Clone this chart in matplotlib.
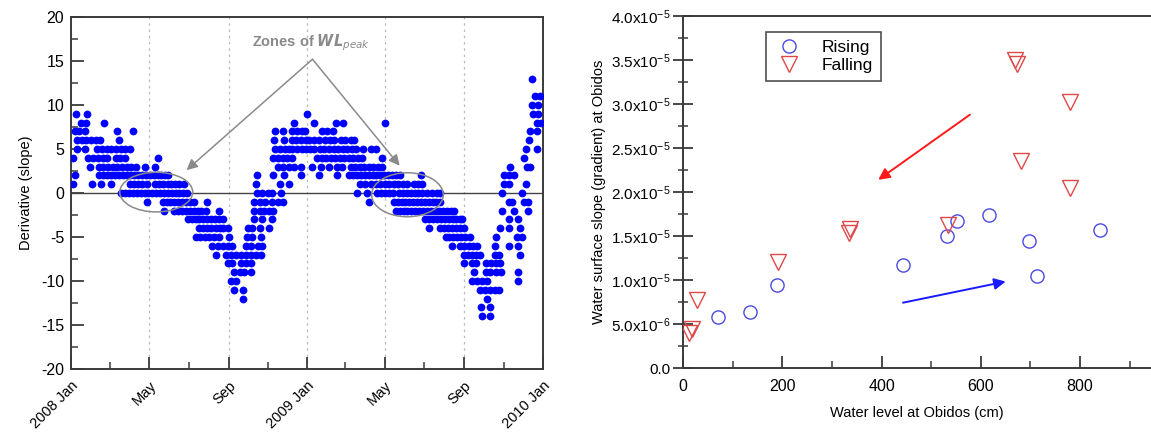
import numpy as np
import matplotlib
matplotlib.use("Agg")
import matplotlib.pyplot as plt
import matplotlib.dates as mdates
from matplotlib.patches import Ellipse
from matplotlib.ticker import MultipleLocator, FixedLocator, FuncFormatter

plt.rcParams['font.family'] = ['Liberation Sans', 'DejaVu Sans']
plt.rcParams['axes.unicode_minus'] = False

# ---- left panel: derivative of water level, days counted from 2008-01-01 ----
slope_levels = [13, 11, 10, 9, 8, 7, 6, 5, 4, 3, 2, 1, 0, -1, -2, -3, -4, -5,
                -6, -7, -8, -9, -10, -11, -12, -13, -14]
slope_days = [
    [714],
    [719, 727],
    [714, 724],
    [8, 25, 365, 716, 724],
    [15, 24, 51, 346, 376, 410, 422, 486, 722, 728],
    [6, 13, 21, 71, 96, 316, 329, 342, 350, 357, 363, 389, 397, 406, 711, 722],
    [10, 17, 24, 31, 39, 45, 74, 315, 330, 342, 349, 356, 364, 369, 376, 384,
     393, 401, 407, 418, 425, 433, 438, 710],
    [10, 22, 41, 48, 55, 62, 70, 78, 84, 91, 316, 324, 331, 338, 343, 350, 357,
     364, 370, 377, 385, 392, 400, 407, 414, 421, 428, 435, 441, 453, 464, 472,
     704, 722],
    [3, 27, 34, 42, 50, 56, 69, 76, 84, 134, 313, 321, 328, 335, 342, 381, 388,
     395, 402, 409, 416, 423, 430, 437, 444, 450, 482, 701],
    [29, 43, 50, 57, 65, 72, 79, 86, 93, 101, 114, 130, 320, 328, 338, 346, 356,
     374, 387, 400, 412, 420, 433, 440, 447, 454, 461, 468, 475, 482, 680, 706,
     711],
    [6, 44, 50, 56, 62, 68, 74, 80, 86, 92, 98, 104, 110, 116, 122, 128, 134,
     140, 146, 151, 288, 313, 330, 356, 384, 412, 431, 437, 443, 449, 455, 461,
     467, 473, 479, 485, 491, 497, 503, 509, 542, 670, 679, 686],
    [3, 33, 47, 62, 91, 97, 103, 110, 117, 130, 136, 143, 150, 155, 161, 168,
     175, 287, 323, 338, 448, 456, 464, 472, 479, 486, 493, 500, 507, 514, 521,
     531, 538, 544, 670, 679, 704],
    [78, 84, 90, 96, 102, 108, 114, 120, 126, 132, 138, 144, 150, 156, 162, 168,
     174, 180, 288, 296, 305, 311, 325, 443, 459, 474, 480, 486, 492, 498, 508,
     514, 520, 526, 532, 538, 544, 551, 559, 567, 572, 668, 698],
    [117, 142, 148, 154, 160, 166, 172, 178, 184, 191, 210, 284, 293, 301, 311,
     320, 328, 461, 500, 506, 512, 518, 524, 530, 536, 542, 548, 554, 560, 566,
     571, 678, 683, 701, 708],
    [144, 160, 166, 172, 178, 184, 190, 196, 202, 209, 229, 284, 292, 299, 307,
     313, 503, 509, 515, 521, 527, 533, 539, 545, 551, 557, 564, 570, 576, 582,
     588, 593, 668, 686, 708],
    [181, 187, 193, 199, 205, 211, 217, 223, 229, 235, 284, 296, 311, 549, 555,
     561, 567, 573, 579, 585, 591, 597, 603, 606, 678, 693],
    [199, 205, 211, 217, 224, 230, 236, 243, 274, 281, 292, 307, 554, 572, 578,
     584, 590, 596, 602, 608, 665, 679, 696],
    [193, 200, 207, 214, 222, 229, 244, 273, 280, 294, 580, 586, 592, 598, 604,
     610, 618, 658, 691, 698],
    [219, 227, 235, 243, 249, 271, 279, 289, 296, 590, 603, 609, 616, 622, 629,
     657, 679, 692],
    [225, 240, 248, 256, 263, 271, 279, 287, 294, 608, 615, 621, 628, 634, 656,
     663, 696],
    [243, 250, 263, 271, 279, 608, 621, 628, 642, 650, 658, 665],
    [253, 261, 268, 279, 624, 642, 649, 658, 666, 693],
    [248, 256, 621, 629, 637, 644, 693],
    [253, 266, 634, 641, 649, 657, 663],
    [267, 644],
    [635, 649],
    [636, 649],
]

month_ticks = ['2008-01-01', '2008-05-01', '2008-09-01', '2009-01-01',
               '2009-05-01', '2009-09-01', '2010-01-01']
month_labels = ['2008 Jan', 'May', 'Sep', '2009 Jan', 'May', 'Sep', '2010 Jan']
minor_months = ['2008-03-01', '2008-07-01', '2008-11-01', '2009-03-01',
                '2009-07-01', '2009-11-01']

# ---- right panel: slope vs water level ----
rising_level = [69, 134, 188, 443, 532, 551, 616, 697, 714, 841]
rising_slope = [5.8e-6, 6.4e-6, 9.5e-6, 1.17e-5, 1.50e-5, 1.67e-5, 1.74e-5,
                1.45e-5, 1.05e-5, 1.57e-5]
falling_level = [11, 17, 27, 191, 334, 336, 534, 669, 672, 780, 680, 780]
falling_slope = [4.0e-6, 4.5e-6, 7.7e-6, 1.21e-5, 1.54e-5, 1.58e-5, 1.63e-5,
                 3.50e-5, 3.46e-5, 3.02e-5, 2.35e-5, 2.05e-5]

base = np.datetime64('2008-01-01')
to_date = lambda d: mdates.date2num(base + np.timedelta64(int(d), 'D'))

fig = plt.figure(figsize=(11.51, 4.34), dpi=100)
spine_col = '#3a3a3a'

# ---------------- left panel ----------------
ax1 = fig.add_axes([71 / 1151, 1 - 369 / 434, 472 / 1151, 352 / 434])
xs, ys = [], []
for lev, days in zip(slope_levels, slope_days):
    for d in days:
        xs.append(to_date(d))
        ys.append(lev)
ax1.plot(xs, ys, 'o', color='#0000ff', markersize=5.6, markeredgewidth=0,
         zorder=3)

t_major = [mdates.date2num(np.datetime64(t)) for t in month_ticks]
t_minor = [mdates.date2num(np.datetime64(t)) for t in minor_months]
ax1.set_xlim(t_major[0], t_major[-1])
ax1.set_ylim(-20, 20)
for t in t_major[1:-1]:
    ax1.axvline(t, color='#bbbbbb', lw=0.9, ls=(0, (2, 3)), zorder=1)
ax1.axhline(0, color='#444444', lw=1.0, zorder=2)

ax1.xaxis.set_major_locator(FixedLocator(t_major))
ax1.xaxis.set_minor_locator(FixedLocator(t_minor))
ax1.set_xticklabels(month_labels, rotation=45, ha='right',
                    rotation_mode='anchor')
ax1.yaxis.set_major_locator(MultipleLocator(5))
ax1.yaxis.set_minor_locator(MultipleLocator(2.5))
ax1.tick_params(which='major', direction='in', length=9, width=1.3,
                color=spine_col, labelsize=11.5, pad=5)
ax1.tick_params(which='minor', direction='in', length=5, width=1.1,
                color=spine_col)
ax1.tick_params(axis='x', pad=7, labelsize=10.5)
for s in ax1.spines.values():
    s.set_color(spine_col)
    s.set_linewidth(1.4)
ax1.set_ylabel('Derivative (slope)', fontsize=10.5, labelpad=6)

# zones of peak water level
zone_col = '#8a8a8a'
ax1.add_patch(Ellipse((to_date(132), 0.1), 113, 4.5, fill=False,
                      edgecolor=zone_col, lw=1.1, zorder=4))
ax1.add_patch(Ellipse((to_date(521), -0.2), 111, 5.0, fill=False,
                      edgecolor=zone_col, lw=1.1, zorder=4))
apex = (to_date(374), 15.2)
for tip in [(to_date(179), 2.6), (to_date(509), 3.1)]:
    ax1.annotate('', xy=tip, xytext=apex,
                 arrowprops=dict(arrowstyle='-|>', color=zone_col, lw=1.1,
                                 mutation_scale=16, shrinkA=0, shrinkB=0))
ax1.text(to_date(372), 15.9, r'Zones of $\mathbfit{WL}_{\mathit{peak}}$',
         color=zone_col, fontsize=10.5, fontweight='bold', ha='center',
         va='bottom')

# ---------------- right panel ----------------
ax2 = fig.add_axes([683.3 / 1151, 1 - 368.3 / 434, (1151 - 683.3) / 1151,
                    352.3 / 434])
ax2.plot(rising_level, rising_slope, 'o', mfc='none', mec='#4a4ae0',
         markersize=9.5, mew=1.0, label='Rising', zorder=3)
ax2.plot(falling_level, falling_slope, 'v', mfc='none', mec='#e04848',
         markersize=11, mew=1.0, label='Falling', zorder=3)
ax2.set_xlim(0, 943)
ax2.set_ylim(0, 4.0e-5)

ax2.annotate('', xy=(393, 2.14e-5), xytext=(578, 2.88e-5),
             arrowprops=dict(arrowstyle='-|>', color='#ff1a1a', lw=1.4,
                             mutation_scale=17, shrinkA=0, shrinkB=0))
ax2.annotate('', xy=(650, 9.85e-6), xytext=(443, 7.45e-6),
             arrowprops=dict(arrowstyle='-|>', color='#1a1aff', lw=1.4,
                             mutation_scale=17, shrinkA=0, shrinkB=0))


def sci_fmt(v, pos):
    if abs(v) < 1e-12:
        return '0.0'
    exp = int(np.floor(np.log10(abs(v))))
    mant = v / 10 ** exp
    return r'$\mathregular{%.1fx10^{%d}}$' % (mant, exp)


ax2.xaxis.set_major_locator(MultipleLocator(200))
ax2.xaxis.set_minor_locator(MultipleLocator(100))
ax2.yaxis.set_major_locator(MultipleLocator(0.5e-5))
ax2.yaxis.set_minor_locator(MultipleLocator(0.25e-5))
ax2.yaxis.set_major_formatter(FuncFormatter(sci_fmt))
ax2.tick_params(axis='x', which='major', direction='in', length=9, width=1.3,
                color=spine_col, labelsize=11.5, pad=8)
ax2.tick_params(axis='x', which='minor', direction='in', length=5, width=1.1,
                color=spine_col)
ax2.tick_params(axis='y', which='major', direction='inout', length=14,
                width=1.3, color=spine_col, labelsize=11, pad=2)
ax2.tick_params(axis='y', which='minor', direction='inout', length=7,
                width=1.1, color=spine_col)
ax2.spines['right'].set_visible(False)
for s in ['left', 'bottom', 'top']:
    ax2.spines[s].set_color(spine_col)
    ax2.spines[s].set_linewidth(1.4)
ax2.set_xlabel('Water level at Obidos (cm)', fontsize=10.5, labelpad=8)
ax2.set_ylabel('Water surface slope (gradient) at Obidos', fontsize=10.5,
               labelpad=4)

leg = ax2.legend(loc='upper left', bbox_to_anchor=(0.176, 0.955),
                 fontsize=12.5, frameon=True, fancybox=False,
                 borderpad=0.45, handletextpad=1.0, labelspacing=0.2,
                 handlelength=1.8, borderaxespad=0)
leg.get_frame().set_edgecolor('#222222')
leg.get_frame().set_linewidth(1.2)

fig.savefig('out.png', dpi=100)
